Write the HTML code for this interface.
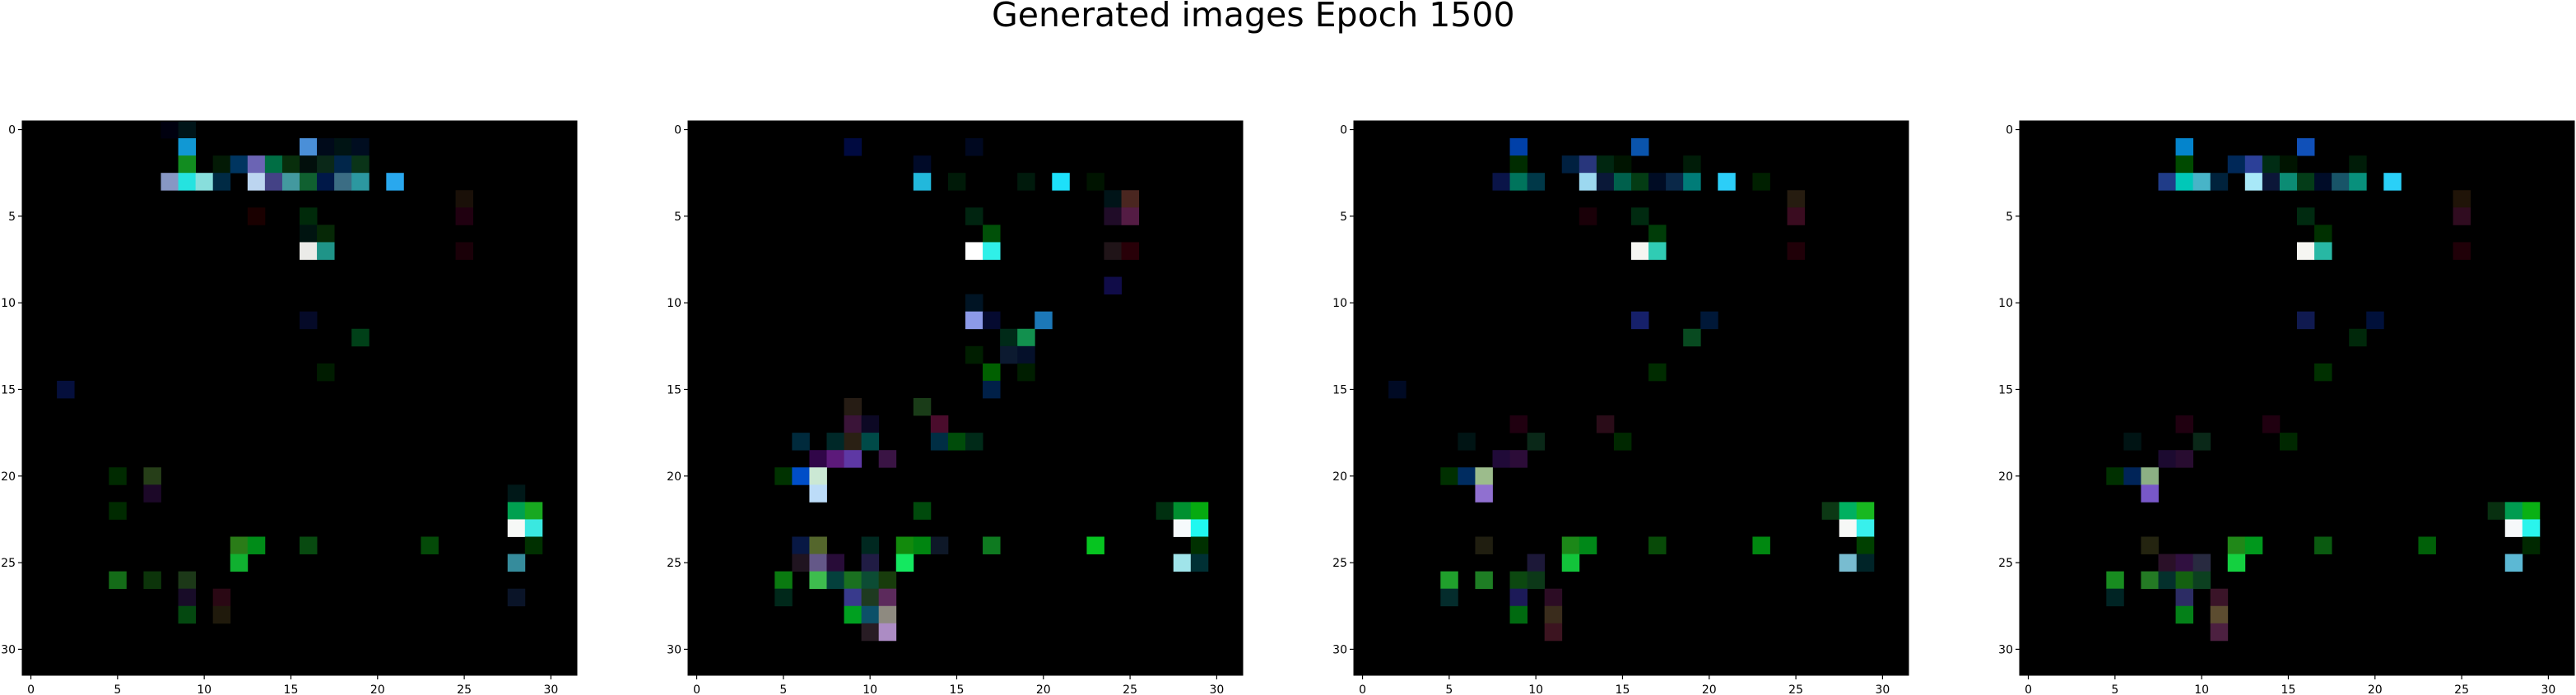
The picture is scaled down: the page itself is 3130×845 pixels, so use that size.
<!DOCTYPE html>
<html><head><meta charset="utf-8">
<style>
html,body{margin:0;padding:0;background:#fff;}
svg{display:block;font-family:"DejaVu Sans","Liberation Sans",sans-serif;}
</style></head>
<body>
<svg id="fig" width="3130" height="845" viewBox="0 0 3130 845" xmlns="http://www.w3.org/2000/svg">
<rect width="3130" height="845" fill="#fff"/>
<text x="1205" y="32" font-size="41" fill="#000">Generated images Epoch 1500</text>
</svg>
<script>
const panelLefts = [27, 836, 1645, 2454];
const tickValues = [0, 5, 10, 15, 20, 25, 30];
const tickLabels = ["0", "5", "10", "15", "20", "25", "30"];
const gridSize = 32;
// [row, col, color] non-black cells per generated image
const image1 = [[0,8,"#00000f"],[0,9,"#001418"],[1,9,"#1198d4"],[1,16,"#4a8fd8"],[1,17,"#000a1a"],[1,18,"#001414"],[1,19,"#000d20"],
[2,9,"#128c20"],[2,11,"#031a05"],[2,12,"#003560"],[2,13,"#6b64b4"],[2,14,"#006e44"],[2,15,"#082e0c"],[2,16,"#020f0c"],[2,17,"#0a2818"],[2,18,"#01264a"],[2,19,"#0a3418"],
[3,8,"#8797c4"],[3,9,"#25e3e0"],[3,10,"#88dedc"],[3,11,"#002a44"],[3,13,"#bcd5f0"],[3,14,"#444286"],[3,15,"#43999f"],[3,16,"#106030"],[3,17,"#001848"],[3,18,"#3b6d84"],[3,19,"#2c98a0"],[3,21,"#29a8ee"],
[4,25,"#1a1008"],[5,13,"#1a0000"],[5,16,"#002a0a"],[5,25,"#200010"],[6,16,"#001410"],[6,17,"#062806"],[7,16,"#ebebe8"],[7,17,"#1f9488"],[7,25,"#1a0008"],
[11,16,"#050a28"],[12,19,"#004018"],[14,17,"#001c00"],[15,2,"#050f3c"],[20,5,"#002a00"],[20,7,"#263e18"],[21,7,"#1c0828"],
[22,5,"#002a00"],[21,28,"#001818"],[22,28,"#00a050"],[22,29,"#18a820"],[23,28,"#f6f8f6"],[23,29,"#3ae8e0"],
[24,12,"#2a7c18"],[24,13,"#008c18"],[24,16,"#084a10"],[24,23,"#044a08"],[24,29,"#003000"],[25,12,"#10b030"],[25,28,"#368c9c"],
[26,5,"#146c18"],[26,7,"#0c340a"],[26,9,"#1c3818"],[27,9,"#180c28"],[27,11,"#2a0814"],[27,28,"#0a1428"],[28,9,"#044810"],[28,11,"#201a0c"]];
const image2 = [[1,9,"#000a40"],[1,16,"#000820"],[2,13,"#000a28"],[3,13,"#22b8dc"],[3,15,"#001a08"],[3,19,"#001a0c"],[3,21,"#1de0fa"],[3,23,"#001400"],
[4,24,"#001418"],[4,25,"#4a2620"],[5,16,"#002410"],[5,24,"#200c28"],[5,25,"#541c44"],[6,17,"#005008"],[7,16,"#ffffff"],[7,17,"#30f0e8"],[7,24,"#201418"],[7,25,"#280008"],
[9,24,"#100c48"],[10,16,"#001424"],[11,16,"#8c9ae8"],[11,17,"#050a30"],[11,20,"#1c78b8"],[12,18,"#002a18"],[12,19,"#12904e"],[13,16,"#001e00"],[13,18,"#0c1a30"],[13,19,"#05102a"],
[14,17,"#006000"],[14,19,"#001e00"],[15,17,"#002048"],[16,9,"#261c14"],[16,13,"#1a3c18"],[17,9,"#3a1438"],[17,10,"#0c0824"],[17,14,"#4a0c2c"],
[18,6,"#002a3c"],[18,8,"#002828"],[18,9,"#2a2014"],[18,10,"#004a48"],[18,14,"#002e44"],[18,15,"#004c0a"],[18,16,"#002a18"],
[19,7,"#300648"],[19,8,"#5c1a7a"],[19,9,"#5e38a4"],[19,11,"#3a1444"],[20,5,"#003200"],[20,6,"#004ec8"],[20,7,"#cbe8d4"],[21,7,"#bcdcf8"],
[22,13,"#004a0c"],[22,27,"#003010"],[22,28,"#009030"],[22,29,"#06aa10"],[23,28,"#f6fafc"],[23,29,"#20f8f0"],
[24,6,"#081844"],[24,7,"#54662c"],[24,10,"#002820"],[24,12,"#128a0c"],[24,13,"#008510"],[24,14,"#0e1828"],[24,17,"#0e7a20"],[24,23,"#06c420"],[24,29,"#003000"],
[25,6,"#201420"],[25,7,"#645888"],[25,8,"#280c38"],[25,10,"#201c44"],[25,12,"#14e860"],[25,28,"#a0e4ea"],[25,29,"#003034"],
[26,5,"#0a7a10"],[26,7,"#3ebc4e"],[26,8,"#04403c"],[26,9,"#1a7020"],[26,10,"#0c4c34"],[26,11,"#183c0c"],
[27,5,"#00281a"],[27,9,"#383a8c"],[27,10,"#1e3a20"],[27,11,"#5c2a5c"],[28,9,"#00a020"],[28,10,"#0c5068"],[28,11,"#8e8a80"],[29,10,"#281c24"],[29,11,"#ac8cc4"]];
const image3 = [[1,9,"#0040a8"],[1,16,"#0a54ac"],[2,9,"#002c00"],[2,12,"#002040"],[2,13,"#28367c"],[2,14,"#002610"],[2,15,"#001400"],[2,19,"#001c08"],
[3,8,"#0a1448"],[3,9,"#00745c"],[3,10,"#003848"],[3,13,"#9cd8f0"],[3,14,"#0a1838"],[3,15,"#00604c"],[3,16,"#043c14"],[3,17,"#000c24"],[3,18,"#0a2848"],[3,19,"#007c78"],[3,21,"#2ccef8"],[3,23,"#002000"],
[4,25,"#261c10"],[5,13,"#1a0008"],[5,16,"#002a10"],[5,25,"#3a0c20"],[6,17,"#003c08"],[7,16,"#f6f6f2"],[7,17,"#30ccb4"],[7,25,"#200008"],
[11,16,"#16206a"],[11,20,"#001838"],[12,19,"#084a20"],[14,17,"#002c00"],[15,2,"#000a24"],[17,9,"#200010"],[17,14,"#2a0c18"],[18,6,"#001414"],[18,10,"#0a2818"],[18,15,"#002800"],
[19,8,"#200a38"],[19,9,"#2c0c38"],[20,5,"#003000"],[20,6,"#002c60"],[20,7,"#9cbc8c"],[21,7,"#9070d0"],
[22,27,"#0c3814"],[22,28,"#00b060"],[22,29,"#18b820"],[23,28,"#f6f8f6"],[23,29,"#38f0ec"],
[24,7,"#201e10"],[24,12,"#1c8818"],[24,13,"#008818"],[24,17,"#084a08"],[24,23,"#008810"],[24,29,"#004000"],[25,10,"#1c1838"],[25,12,"#12c43a"],[25,28,"#78bcd0"],[25,29,"#002428"],
[26,5,"#20a02c"],[26,7,"#1e7e24"],[26,9,"#0c4810"],[26,10,"#0c3818"],[27,5,"#042c2c"],[27,9,"#1c1a58"],[27,11,"#2c0c24"],[28,9,"#006a10"],[28,11,"#3a2c1c"],[29,11,"#3c1420"]];
const image4 = [[1,9,"#0484cc"],[1,16,"#1050b8"],[2,9,"#004a00"],[2,12,"#002858"],[2,13,"#2c4098"],[2,14,"#002c14"],[2,15,"#001400"],[2,19,"#001c08"],
[3,8,"#203c88"],[3,9,"#00c8b8"],[3,10,"#48b4c8"],[3,11,"#00223c"],[3,13,"#a8e8f8"],[3,14,"#0c1638"],[3,15,"#0c8c74"],[3,16,"#043c18"],[3,17,"#000c28"],[3,18,"#185468"],[3,19,"#08907c"],[3,21,"#2ad0f8"],
[4,25,"#201408"],[5,16,"#002a10"],[5,25,"#300c20"],[6,17,"#003000"],[7,16,"#f6f6f2"],[7,17,"#28b8a4"],[7,25,"#200008"],
[11,16,"#101a50"],[11,20,"#00103a"],[12,19,"#00280a"],[14,17,"#003000"],[17,9,"#200010"],[17,14,"#200010"],[18,6,"#001414"],[18,10,"#0a2818"],[18,15,"#002800"],
[19,8,"#1c0a30"],[19,9,"#280c30"],[20,5,"#003000"],[20,6,"#002458"],[20,7,"#8cb084"],[21,7,"#7858c8"],
[22,27,"#083010"],[22,28,"#009c50"],[22,29,"#0ab014"],[23,28,"#f6f8fa"],[23,29,"#2af4ec"],
[24,7,"#242410"],[24,12,"#208818"],[24,13,"#00981c"],[24,17,"#0a5a10"],[24,23,"#006008"],[24,29,"#002800"],
[25,8,"#2a1028"],[25,9,"#301040"],[25,10,"#282a40"],[25,12,"#14d040"],[25,28,"#5cb8d4"],
[26,5,"#188c20"],[26,7,"#247a24"],[26,8,"#04302c"],[26,9,"#146010"],[26,10,"#0c4020"],[27,5,"#002424"],[27,9,"#2c2c64"],[27,11,"#3a1428"],[28,9,"#048018"],[28,11,"#5c4c30"],[29,11,"#4c2040"]];
const images = [image1, image2, image3, image4];

const NS = "http://www.w3.org/2000/svg";
const svg = document.getElementById("fig");
const axTop = 147, axSize = 674;
const cell = axSize / gridSize;
function mk(tag, attrs, parent) {
  const e = document.createElementNS(NS, tag);
  for (const k in attrs) e.setAttribute(k, attrs[k]);
  parent.appendChild(e);
  return e;
}
images.forEach((img, p) => {
  const left = panelLefts[p];
  const xScale = v => left + (v + 0.5) * cell;
  const yScale = v => axTop + (v + 0.5) * cell;
  const g = mk("g", {}, svg);
  
  
  const bg = mk("rect", {x: left, y: axTop, width: axSize, height: axSize, fill: "#000"}, g);
  
  
  img.forEach(([r, c, col]) => {
    const px = mk("rect", {x: xScale(c) - cell / 2, y: yScale(r) - cell / 2, width: cell + 0.4, height: cell + 0.4, fill: col}, g);
    
    
  });
  const frame = mk("rect", {x: left, y: axTop, width: axSize, height: axSize, fill: "none", stroke: "#000", "stroke-width": 1}, g);
  
  
  tickValues.forEach((t, i) => {
    const ty = yScale(t);
    mk("line", {x1: left - 5, x2: left, y1: ty, y2: ty, stroke: "#000", "stroke-width": 1.2}, g);
    const yl = mk("text", {x: left - 8, y: ty + 5, "font-size": 14, "text-anchor": "end", fill: "#000"}, g);
    yl.textContent = tickLabels[i];
    
    
    const tx = xScale(t);
    mk("line", {x1: tx, x2: tx, y1: axTop + axSize, y2: axTop + axSize + 5, stroke: "#000", "stroke-width": 1.2}, g);
    const xl = mk("text", {x: tx, y: axTop + axSize + 22, "font-size": 14, "text-anchor": "middle", fill: "#000"}, g);
    xl.textContent = tickLabels[i];
    
    
  });
});
</script>
</body></html>
